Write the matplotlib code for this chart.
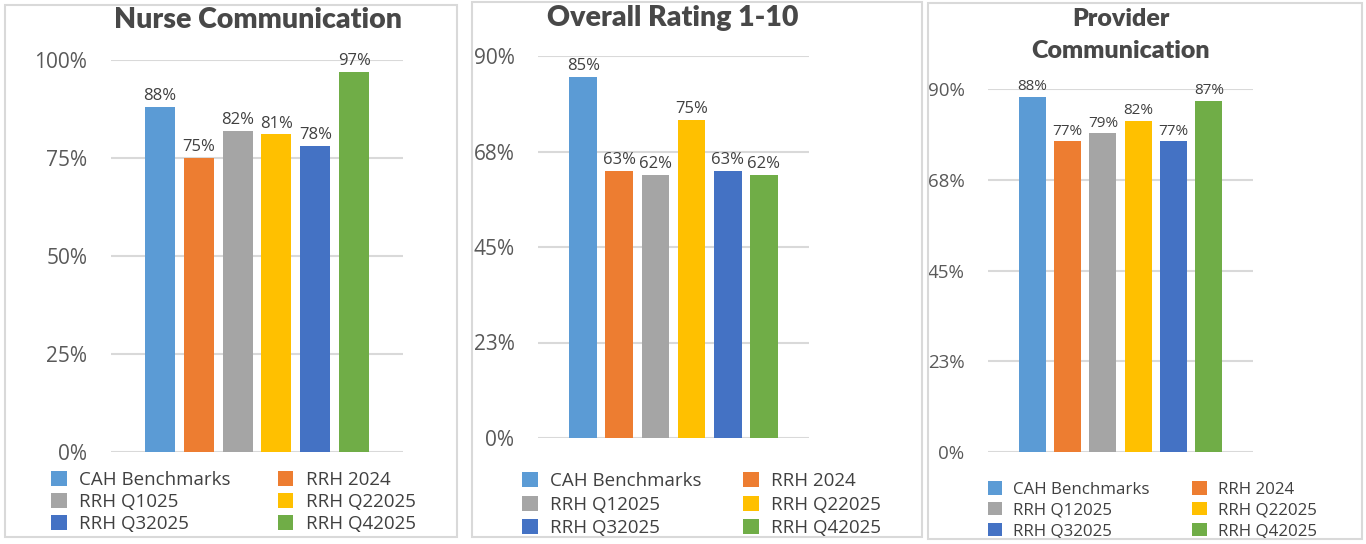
import numpy as np
import matplotlib
matplotlib.use('Agg')
import matplotlib.pyplot as plt
from matplotlib.patches import Rectangle

plt.rcParams['font.family'] = ['Open Sans', 'DejaVu Sans']

# Data
series = ['CAH Benchmarks', 'RRH 2024', 'RRH Q12025', 'RRH Q22025', 'RRH Q32025', 'RRH Q42025']
series_nurse = ['CAH Benchmarks', 'RRH 2024', 'RRH Q1025', 'RRH Q22025', 'RRH Q32025', 'RRH Q42025']
colors = ['#5B9BD5', '#ED7D31', '#A5A5A5', '#FFC000', '#4472C4', '#70AD47']

nurse = [0.88, 0.75, 0.82, 0.81, 0.78, 0.97]
overall = [0.85, 0.63, 0.62, 0.75, 0.63, 0.62]
provider = [0.88, 0.77, 0.79, 0.82, 0.77, 0.87]

nurse_ticks = [0, 0.25, 0.50, 0.75, 1.00]
nurse_ticklabels = ['0%', '25%', '50%', '75%', '100%']
rating_ticks = [0, 0.225, 0.45, 0.675, 0.90]
rating_ticklabels = ['0%', '23%', '45%', '68%', '90%']

W, H = 1366, 544
fig = plt.figure(figsize=(W / 100, H / 100), dpi=100)


def fx(x):
    return x / W


def fy(y):
    return 1 - y / H


def panel(box, plot, title, title_xy, title_size, values, labels, ticks, ticklabels,
          tick_size, label_size, leg_xy, leg_size, colspace, rowspace):
    # outer frame of the panel
    x0, y0, x1, y1 = box
    fig.patches.append(Rectangle((fx(x0), fy(y1)), (x1 - x0) / W, (y1 - y0) / H,
                                 transform=fig.transFigure, fill=False,
                                 edgecolor='#D9D9D9', lw=1.5))
    L, T, R, B = plot
    ax = fig.add_axes([fx(L), fy(B), (R - L) / W, (B - T) / H])
    pos = np.arange(len(values))
    bars = ax.bar(pos, values, width=0.77, color=colors, label=labels, zorder=3)
    ax.bar_label(bars, labels=[f'{v * 100:.0f}%' for v in values], padding=2,
                 fontsize=label_size, color='#404040')
    ax.set_xlim(-1.25, len(values) + 0.25)
    ax.set_ylim(ticks[0], ticks[-1])
    ax.set_yticks(ticks)
    ax.set_yticklabels(ticklabels, fontsize=tick_size, color='#595959')
    ax.tick_params(axis='y', length=0, pad=17)
    ax.set_xticks([])
    ax.grid(axis='y', color='#D9D9D9', lw=1.5, zorder=0)
    for s in ax.spines.values():
        s.set_visible(False)
    for t in ax.texts:
        t.set_clip_on(False)
    fig.text(fx(title_xy[0]), fy(title_xy[1]), title, ha='center', va='center',
             family='Lato', weight='heavy', fontsize=title_size, color='#484848',
             linespacing=1.5)
    # legend, filled row by row like the original
    order = [0, 2, 4, 1, 3, 5]
    handles = [bars[i] for i in order]
    ax.legend(handles, [labels[i] for i in order], ncol=2, loc='upper left',
              bbox_to_anchor=(fx(leg_xy[0]), fy(leg_xy[1])),
              bbox_transform=fig.transFigure, frameon=False, borderpad=0,
              borderaxespad=0, handlelength=0.85, handleheight=0.85,
              handletextpad=0.65, columnspacing=colspace, labelspacing=rowspace,
              prop={'size': leg_size}, labelcolor='#404040')
    return ax


panel((5, 5, 457, 537), (111, 60, 403, 452), 'Nurse Communication', (258, 20), 20.5,
      nurse, series_nurse, nurse_ticks, nurse_ticklabels, 15, 12, (51, 471), 13.5, 2.5, 0.22)
panel((472, 2, 922, 537), (538, 56, 809, 438), 'Overall Rating 1-10', (673, 18), 20.5,
      overall, series, rating_ticks, rating_ticklabels, 15, 12, (522, 472), 13.5, 2.2, 0.3)
panel((928, 3, 1362, 539), (988, 89, 1253, 452), 'Provider\nCommunication', (1121, 35), 18,
      provider, series, rating_ticks, rating_ticklabels, 13.5, 11, (988, 481), 12.2, 2.5, 0.25)

fig.savefig('out.png', dpi=100)
